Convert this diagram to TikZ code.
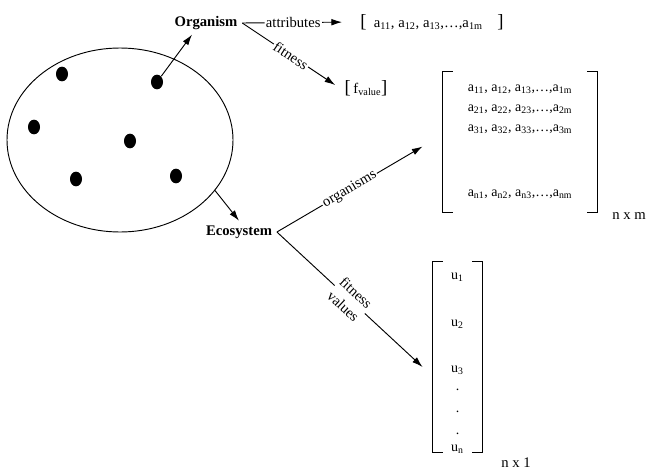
\documentclass[tikz,border=0pt]{standalone}
\usepackage{fontspec}
\setmainfont{Liberation Serif}
\usetikzlibrary{positioning, arrows.meta, shapes.geometric}

\begin{document}
\begin{tikzpicture}[
    x=0.75pt, y=-0.75pt,
    line width=0.7pt,
    font=\fontsize{11}{13}\selectfont,
    dot/.style={fill, ellipse, minimum width=9pt, minimum height=11pt, inner sep=0pt},
    term/.style={font=\fontsize{11}{13}\selectfont\bfseries},
    tag/.style={fill=white, sloped, inner sep=1pt},
    vec/.style={align=center, inner sep=0pt, font=\fontsize{10.5}{15}\selectfont},
    brace/.style={line width=1.1pt},
    link/.style={-{Latex[length=8pt, width=5pt]}}
]
    \useasboundingbox (0,0) rectangle (647,475);

    % ecosystem with its organisms
    \node[draw, ellipse, minimum width=169.5pt, minimum height=138pt] (pool) at (120,140) {};
    \node[dot] (org1) at (62,74) {};
    \node[dot] (org2) at (157,82) {};
    \node[dot] (org3) at (34,127) {};
    \node[dot] (org4) at (130,141) {};
    \node[dot] (org5) at (76,179) {};
    \node[dot] (org6) at (176,176) {};

    \node[term] (organism) at (206,23) {Organism};
    \node[term] (ecosystem) at (239,232) {Ecosystem};

    % vectors and matrices
    \node (attrvec) at (432,22) {{\fontsize{14}{14}\selectfont[}\enspace a\textsubscript{11}, a\textsubscript{12}, a\textsubscript{13},…,a\textsubscript{1m}\quad{\fontsize{14}{14}\selectfont]}};
    \node (fitval) at (366,88) {{\fontsize{14}{14}\selectfont[}\hspace{2pt}f\textsubscript{value}{\fontsize{14}{14}\selectfont]}};
    \node[vec, minimum width=115.5pt, minimum height=105pt] (popmat) at (520,142)
        {a\textsubscript{11}, a\textsubscript{12}, a\textsubscript{13},…,a\textsubscript{1m}\\
         a\textsubscript{21}, a\textsubscript{22}, a\textsubscript{23},…,a\textsubscript{2m}\\
         a\textsubscript{31}, a\textsubscript{32}, a\textsubscript{33},…,a\textsubscript{3m}\\[33.75pt]
         a\textsubscript{n1}, a\textsubscript{n2}, a\textsubscript{n3},…,a\textsubscript{nm}};
    \node[vec, font=\fontsize{10.5}{16.5}\selectfont, minimum width=36.75pt, minimum height=142.5pt] (fitvec) at (457.5,363)
        {u\textsubscript{1}\\[18.75pt] u\textsubscript{2}\\[18pt] u\textsubscript{3}\\[-3pt] .\\ .\\ .\\[-3.75pt] u\textsubscript{n}};
    \node[right=7.5pt of popmat.south east, yshift=-3pt] (dimnm) {n x m};
    \node[right=10.5pt of fitvec.south east, yshift=-3.5pt] (dimn1) {n x 1};

    \draw[brace] ([xshift=7.5pt]popmat.north west) -| (popmat.south west) -- ++(7.5pt,0);
    \draw[brace] ([xshift=-7.5pt]popmat.north east) -| (popmat.south east) -- ++(-7.5pt,0);
    \draw[brace] ([xshift=7.5pt, yshift=4.5pt]fitvec.north west) -| ([yshift=4.5pt]fitvec.south west) -- ++(7.5pt,0);
    \draw[brace] ([xshift=-7.5pt, yshift=4.5pt]fitvec.north east) -| ([yshift=4.5pt]fitvec.south east) -- ++(-7.5pt,0);

    % connectors
    \draw[link] (org2) -- ([xshift=-10.5pt]organism.south);
    \draw[link] (pool.332) -- (ecosystem.north);
    \draw[link, shorten >=10pt] (organism.east) -- node[tag, pos=0.45] {attributes} (attrvec.west);
    \draw[link, shorten >=4pt] (organism.east) -- node[tag] {fitness} (fitval.west);
    \draw[link] (ecosystem.east) -- node[tag] {organisms} ([xshift=-15pt, yshift=-3.4pt]popmat.west);
    \draw[link] (ecosystem.east) -- node[tag, align=center, font=\fontsize{11}{14}\selectfont] {fitness\\values} ([xshift=-7.5pt, yshift=-3pt]fitvec.west);
\end{tikzpicture}
\end{document}
